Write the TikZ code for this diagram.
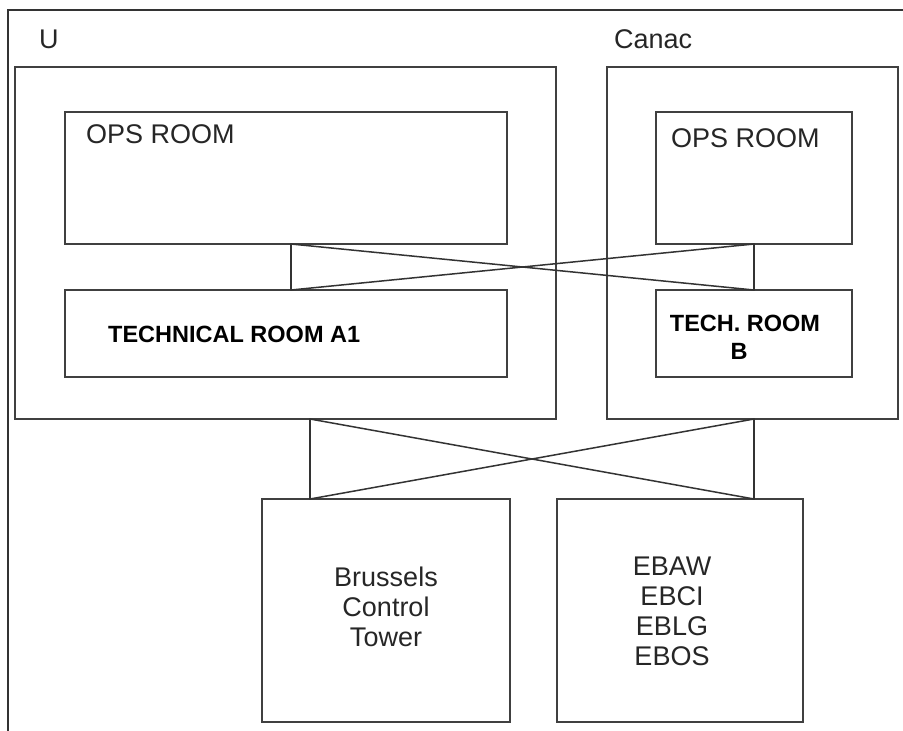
\documentclass[tikz,border=0pt]{standalone}
\usepackage{fontspec}
\setmainfont{Liberation Sans}
\usetikzlibrary{calc}
\usepackage{tkz-euclide}

\tikzset{
  room/.style={draw=black!75, line width=1.6pt, inner sep=0pt, outer sep=0pt, anchor=north west},
  site/.style={room, line width=1.8pt},
  big/.style={font=\fontsize{27}{30}\selectfont, text=black!85, inner sep=0pt},
  heavy/.style={font=\fontsize{23.5}{28}\selectfont\bfseries, text=black, inner sep=0pt}
}

\begin{document}
\begin{tikzpicture}[x=1pt,y=-1pt]
\useasboundingbox (0,0) rectangle (903,731);
\tkzSetUpLine[line width=1.5pt,color=black!80]

% outer frame
\draw[black!80, line width=1.5pt] (8,731) -- (8,10) -- (903,10);

% sites
\node[site, minimum width=541pt, minimum height=352pt] (siteU) at (15,67) {};
\node[site, minimum width=291pt, minimum height=352pt] (siteC) at (607,67) {};
\node[big, anchor=base west] (labU) at (39,48) {U};
\node[big, anchor=base west] (labC) at (614,48) {Canac};

% rooms
\node[room, minimum width=442pt, minimum height=132pt] (opsA) at (65,112) {};
\node[room, minimum width=196pt, minimum height=132pt] (opsB) at (656,112) {};
\node[room, minimum width=442pt, minimum height=87pt] (techA) at (65,290) {};
\node[room, minimum width=196pt, minimum height=87pt] (techB) at (656,290) {};

\node[big, anchor=base west] (opsAlab) at (86,143) {OPS ROOM};
\node[big, anchor=base west] (opsBlab) at (671,147) {OPS ROOM};
\node[heavy, anchor=base west] (techAlab) at (108,342) {TECHNICAL ROOM A1};
\node[heavy, anchor=north, align=center] (techBlab) at (745,315) {TECH. ROOM\\B\hspace*{12pt}};

% towers
\node[room, minimum width=248pt, minimum height=223pt] (tower) at (262,499) {};
\node[room, minimum width=246pt, minimum height=223pt] (fields) at (557,499) {};
\node[big, anchor=north, align=center] (towerlab) at ($(tower.north)+(0,68)$) {Brussels\\Control\\Tower};
\node[big, anchor=north, align=center] (fieldslab) at ($(fields.north)+(-8,58)$) {EBAW\\EBCI\\EBLG\\EBOS};

% crossed links between rooms
\coordinate (upA) at ($(opsA.south west)+(226,0)$);
\coordinate (upB) at ($(opsB.south west)+(98,0)$);
\coordinate (dnA) at ($(techA.north west)+(226,0)$);
\coordinate (dnB) at ($(techB.north west)+(98,0)$);
\tkzDrawSegments(upA,dnA upB,dnB upA,dnB dnA,upB)

% crossed links to the towers
\coordinate (baseU) at ($(siteU.south west)+(295,0)$);
\coordinate (baseC) at ($(siteC.south west)+(147,0)$);
\coordinate (topT) at ($(tower.north west)+(48,0)$);
\coordinate (topF) at ($(fields.north west)+(197,0)$);
\tkzDrawSegments(baseU,topT baseC,topF baseU,topF baseC,topT)

\end{tikzpicture}
\end{document}
